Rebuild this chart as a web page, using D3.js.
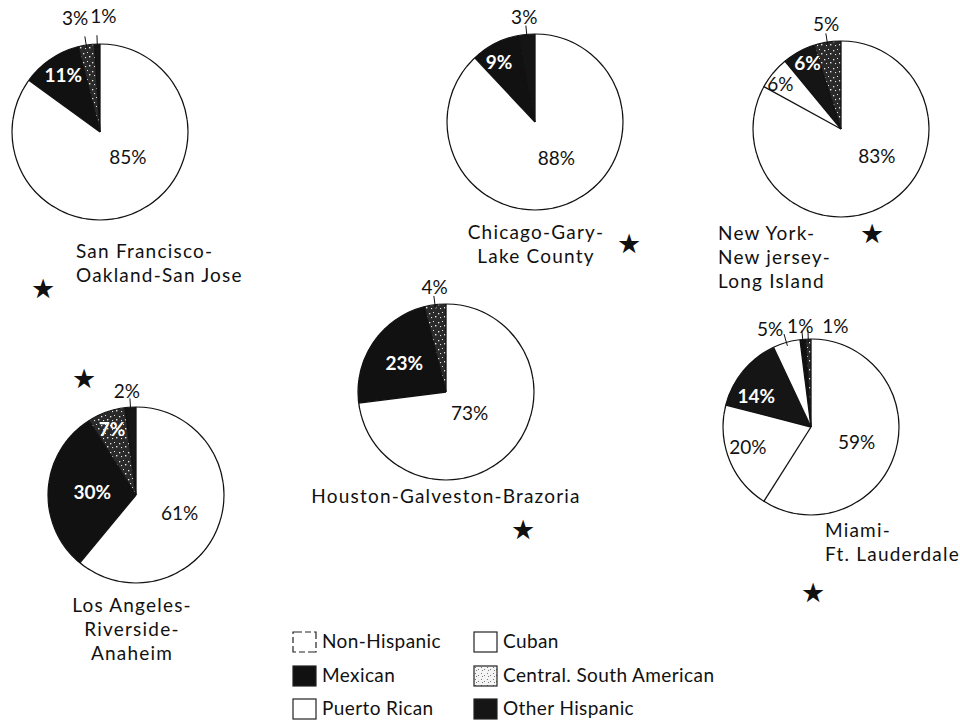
<!DOCTYPE html>
<html>
<head>
<meta charset="utf-8">
<script src="https://cdn.jsdelivr.net/npm/d3@7"></script>
<style>
  body { margin: 0; background: #fff; }
  text { font-family: Lato, "Open Sans", sans-serif; fill: #111; }
</style>
</head>
<body>
<script>
"use strict";

// Hispanic origin groups, one list per metro area (shares in %)
const groups = ["Non-Hispanic", "Mexican", "Puerto Rican", "Cuban", "Central/South American", "Other Hispanic"];

const metros = ["San Francisco-Oakland-San Jose", "Chicago-Gary-Lake County", "New York-New Jersey-Long Island",
                "Los Angeles-Riverside-Anaheim", "Houston-Galveston-Brazoria", "Miami-Ft. Lauderdale"];

const metroLines = [["San Francisco-", "Oakland-San Jose"], ["Chicago-Gary-", "Lake County"],
                    ["New York-", "New jersey-", "Long Island"], ["Los Angeles-", "Riverside-", "Anaheim"],
                    ["Houston-Galveston-Brazoria"], ["Miami-", "Ft. Lauderdale"]];

const sfGroups = ["Non-Hispanic", "Mexican", "Central/South American", "Other Hispanic"];
const sfShares = [85, 11, 3, 1];
const chiGroups = ["Non-Hispanic", "Mexican", "Other Hispanic"];
const chiShares = [88, 9, 3];
const nyGroups = ["Non-Hispanic", "Puerto Rican", "Other Hispanic", "Central/South American"];
const nyShares = [83, 6, 6, 5];
const laGroups = ["Non-Hispanic", "Mexican", "Central/South American", "Other Hispanic"];
const laShares = [61, 30, 7, 2];
const houGroups = ["Non-Hispanic", "Mexican", "Central/South American"];
const houShares = [73, 23, 4];
const miaGroups = ["Non-Hispanic", "Cuban", "Other Hispanic", "Puerto Rican", "Mexican", "Central/South American"];
const miaShares = [59, 20, 14, 5, 1, 1];

const metroGroups = [sfGroups, chiGroups, nyGroups, laGroups, houGroups, miaGroups];
const metroShares = [sfShares, chiShares, nyShares, laShares, houShares, miaShares];

// legend text as printed
const legendText = ["Non-Hispanic", "Mexican", "Puerto Rican", "Cuban", "Central. South American", "Other Hispanic"];

// ---- layout (not data) ----
const W = 960, H = 722, R = 88;
const centers = [[100, 132], [535, 122], [841, 129], [136, 495], [446, 392], [811, 427]];
const nameAt = [[-24, 126, "start"], [1, 117, "middle"], [-123, 111, "start"],
                [-4, 117, "middle"], [0, 111, "middle"], [14, 110, "start"]];
const starAt = [[-57, 156], [94, 121], [31, 104], [-52, -117], [77, 137], [2, 165]];
// small hand nudges of the percent labels, as the printer placed them
const nudges = [
  [[4, -22], [-7, -13], [-7, -1], [7, -2]],
  [[2, -13], [-12, -13], [0, 9]],
  [[9, -18], [-20, -11], [-8, -20], [3, 8]],
  [[-6, 0], [9, 0], [-6, -16], [-2, 10]],
  [[-16, -14], [2, 1], [3, 9]],
  [[-5, 0], [-14, 1], [-14, 3], [-9, 12], [0, 13], [28, 13]]
];

const fills = {
  "Non-Hispanic": "#fff",
  "Mexican": "#111",
  "Puerto Rican": "#fff",
  "Cuban": "#fff",
  "Central/South American": "url(#speckle)",
  "Other Hispanic": "#151515"
};
const dark = g => g === "Mexican" || g === "Other Hispanic" || g === "Central/South American";

const svg = d3.select("body").append("svg").attr("width", W).attr("height", H);

// speckled fill for Central/South American
const pat = svg.append("defs").append("pattern")
  .attr("id", "speckle").attr("patternUnits", "userSpaceOnUse")
  .attr("width", 9).attr("height", 9);
pat.append("rect").attr("width", 9).attr("height", 9).attr("fill", "#2a2a2a");
[[1, 2, 1.3], [5, 1, 1], [3, 6, 1.1], [7, 5, 1.4]].forEach(p => {
  pat.append("rect").attr("x", p[0]).attr("y", p[1]).attr("width", p[2]).attr("height", p[2]).attr("fill", "#e6e6e6");
});
const lpat = svg.select("defs").append("pattern")
  .attr("id", "speckleLight").attr("patternUnits", "userSpaceOnUse")
  .attr("width", 6).attr("height", 6);
lpat.append("rect").attr("width", 6).attr("height", 6).attr("fill", "#f4f4f4");
[[1, 1], [4, 3], [2, 4]].forEach(p => {
  lpat.append("rect").attr("x", p[0]).attr("y", p[1]).attr("width", 1).attr("height", 1).attr("fill", "#777");
});

const pie = d3.pie().sort(null).value(d => d.share);
const arc = d3.arc().innerRadius(0).outerRadius(R);
const inArc = d3.arc().innerRadius(R * 0.6).outerRadius(R * 0.6);
const outArc = d3.arc().innerRadius(R * 1.3).outerRadius(R * 1.3);
const outline = d3.arc().innerRadius(R).outerRadius(R).startAngle(0).endAngle(2 * Math.PI);

metros.forEach(function(m, i) {
  const rows = metroGroups[i].map((g, j) => ({ group: g, share: metroShares[i][j] }));
  const arcs = pie(rows);
  const g = svg.append("g").attr("transform", "translate(" + centers[i] + ")");

  g.selectAll("path.slice").data(arcs).enter().append("path")
    .attr("class", "slice")
    .attr("d", arc)
    .attr("fill", d => fills[d.data.group]);

  // radial edges
  g.selectAll("line.edge").data(arcs).enter().append("line")
    .attr("x1", 0).attr("y1", 0)
    .attr("x2", d => R * Math.sin(d.startAngle))
    .attr("y2", d => -R * Math.cos(d.startAngle))
    .attr("stroke", "#111").attr("stroke-width", 1.3);

  // broken rim, like the printed original
  g.append("path").attr("d", outline())
    .attr("fill", "none").attr("stroke", "#111").attr("stroke-width", 1.2)
    .attr("stroke-dasharray", "62 5 26 4 40 7 18 3");

  // leader ticks for labels outside
  const outside = arcs.filter(d => d.data.share <= 5 && d.data.group !== "Non-Hispanic" && !(i === 2 && d.index === 2));
  g.selectAll("line.tick").data(outside).enter().append("line")
    .attr("x1", d => { const a = (d.startAngle + d.endAngle) / 2; return R * 0.96 * Math.sin(a); })
    .attr("y1", d => { const a = (d.startAngle + d.endAngle) / 2; return -R * 0.96 * Math.cos(a); })
    .attr("x2", d => { const a = (d.startAngle + d.endAngle) / 2; return R * 1.1 * Math.sin(a); })
    .attr("y2", d => { const a = (d.startAngle + d.endAngle) / 2; return -R * 1.1 * Math.cos(a); })
    .attr("stroke", "#111").attr("stroke-width", 1);

  const whiteText = d => (d.data.share > 5 && dark(d.data.group)) || (i === 3 && d.index === 2);
  g.selectAll("text.pct").data(arcs).enter().append("text")
    .attr("class", "pct")
    .attr("transform", d => {
      const isOut = d.data.share <= 5;
      const c = (isOut ? outArc : inArc).centroid(d);
      const n = nudges[i][d.index];
      return "translate(" + (c[0] + n[0]) + "," + (c[1] + n[1]) + ")";
    })
    .attr("text-anchor", "middle")
    .attr("dy", "0.36em")
    .style("font-size", "19px")
    .style("font-weight", d => whiteText(d) ? 700 : 400)
    .style("fill", d => whiteText(d) ? "#fff" : "#111")
    .text(d => d.data.share + "%");

  // metro name
  const t = g.append("text")
    .attr("x", nameAt[i][0]).attr("y", nameAt[i][1])
    .attr("text-anchor", nameAt[i][2])
    .style("font-size", "19px").style("letter-spacing", "1.2px");
  metroLines[i].forEach((line, k) => {
    t.append("tspan").attr("x", nameAt[i][0]).attr("dy", k === 0 ? 0 : 24).text(line);
  });

  g.append("text")
    .attr("x", starAt[i][0]).attr("y", starAt[i][1])
    .attr("text-anchor", "middle").attr("dy", "0.38em")
    .style("font-family", "DejaVu Sans").style("font-size", "27px")
    .text("\u2605");
});

// legend
const legendX = [293, 474], legendY = [632, 666, 699];
const lg = svg.append("g").selectAll("g").data(groups).enter().append("g")
  .attr("transform", (d, k) => "translate(" + legendX[Math.floor(k / 3)] + "," + legendY[k % 3] + ")");
lg.append("rect")
  .attr("width", 23).attr("height", 20)
  .attr("fill", d => d === "Central/South American" ? "url(#speckleLight)" : fills[d])
  .attr("stroke", "#222").attr("stroke-width", 1.2)
  .attr("stroke-dasharray", d => d === "Non-Hispanic" ? "9 3 6 3" : null);
lg.append("text")
  .attr("x", 29).attr("y", 16)
  .style("font-size", "19px").style("letter-spacing", "0.4px")
  .text((d, k) => legendText[k]);
</script>
</body>
</html>
